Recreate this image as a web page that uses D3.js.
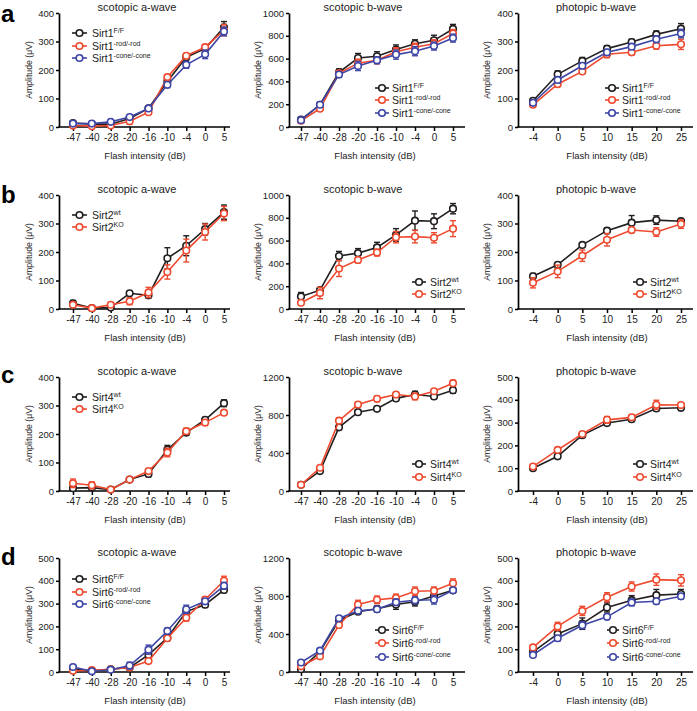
<!DOCTYPE html>
<html><head><meta charset="utf-8">
<script src="https://cdn.jsdelivr.net/npm/d3@7/dist/d3.min.js"></script>
<style>body{margin:0;background:#fff}svg{display:block}</style>
</head><body>
<script>
// ---------- DATA ----------
const xScotopic = ["-47","-40","-28","-20","-16","-10","-4","0","5"];
const xPhotopic = ["-4","0","5","10","15","20","25"];

const yTicks400 = [0,100,200,300,400];
const yTicks500 = [0,100,200,300,400,500];
const yTicks1000 = [0,200,400,600,800,1000];
const yTicks1200 = [0,400,800,1200];

// Row a: Sirt1
const a1_FF = [14,10,10,30,65,160,245,275,350];      const a1_FF_err = [5,4,5,6,6,10,10,10,20];
const a1_rod = [5,3,5,20,52,175,250,280,340];        const a1_rod_err = [4,3,4,10,5,8,8,8,20];
const a1_cone = [12,12,18,35,65,148,218,255,335];    const a1_cone_err = [4,4,4,6,6,10,12,15,15];
const a2_FF = [65,195,480,605,620,680,730,760,860];  const a2_FF_err = [15,15,30,40,40,40,35,45,40];
const a2_rod = [55,160,470,560,585,660,700,730,820]; const a2_rod_err = [10,10,25,35,30,35,35,35,35];
const a2_cone = [60,195,460,535,585,635,665,710,780]; const a2_cone_err = [10,15,25,40,30,40,40,35,35];
const a3_FF = [92,185,232,275,298,325,345];          const a3_FF_err = [8,12,12,10,10,12,18];
const a3_rod = [78,150,195,255,262,285,290];         const a3_rod_err = [6,8,8,12,10,12,18];
const a3_cone = [85,165,215,262,282,308,328];        const a3_cone_err = [6,10,10,10,10,12,15];

// Row b: Sirt2
const b1_wt = [20,3,5,55,48,178,222,280,340];        const b1_wt_err = [10,3,3,5,10,37,35,20,25];
const b1_KO = [15,3,15,27,58,130,205,270,335];       const b1_KO_err = [8,3,4,12,18,25,40,28,25];
const b2_wt = [110,165,465,490,540,650,775,770,880]; const b2_wt_err = [35,20,40,40,45,55,85,65,45];
const b2_KO = [55,140,355,430,495,630,635,625,705];  const b2_KO_err = [20,50,70,25,30,50,55,45,70];
const b3_wt = [115,155,225,275,303,312,308];         const b3_wt_err = [10,8,5,10,25,15,5];
const b3_KO = [92,132,187,243,277,270,298];          const b3_KO_err = [18,22,20,22,10,15,15];

// Row c: Sirt4
const c1_wt = [10,12,5,40,60,145,205,250,308];       const c1_wt_err = [8,8,4,5,10,15,10,8,12];
const c1_KO = [27,20,5,40,70,135,210,240,275];       const c1_KO_err = [15,12,4,5,8,15,10,10,6];
const c2_wt = [65,210,670,830,865,975,1015,995,1060]; const c2_wt_err = [10,25,25,20,20,25,35,25,30];
const c2_KO = [65,245,740,910,970,1015,995,1050,1135]; const c2_KO_err = [10,20,30,25,30,20,35,25,30];
const c3_wt = [100,152,245,298,315,362,365];         const c3_wt_err = [8,10,8,10,10,10,12];
const c3_KO = [107,180,250,312,323,378,377];         const c3_KO_err = [8,10,8,15,12,20,10];

// Row d: Sirt6
const d1_FF = [12,5,12,20,75,150,265,295,360];       const d1_FF_err = [8,4,5,10,12,12,15,12,12];
const d1_rod = [5,8,12,20,48,148,238,318,400];       const d1_rod_err = [5,4,5,10,10,10,15,12,20];
const d1_cone = [22,3,10,28,98,180,275,310,378];     const d1_cone_err = [10,3,5,15,20,12,18,12,15];
const d2_FF = [30,215,545,635,665,710,740,800,860];  const d2_FF_err = [25,15,30,25,30,50,45,35,25];
const d2_rod = [60,165,495,710,760,780,850,855,935]; const d2_rod_err = [20,15,30,45,40,40,45,40,45];
const d2_cone = [100,225,565,645,660,735,755,760,860]; const d2_cone_err = [15,15,25,30,30,30,35,45,25];
const d3_FF = [88,167,212,283,315,337,342];          const d3_FF_err = [10,15,25,20,20,25,20];
const d3_rod = [108,200,268,328,375,405,402];        const d3_rod_err = [10,18,20,20,20,25,25];
const d3_cone = [75,148,205,242,305,310,332];        const d3_cone_err = [8,12,15,12,15,12,12];

// ---------- STYLE / LAYOUT ----------
const COL = {black:"#231f20", red:"#ee4a2f", blue:"#3e46a6"};
const FONT = "Arial, 'Liberation Sans', Helvetica, sans-serif";

const cols = [
  {axisX:59,  x0:73,  x1:224, end:230, titleX:137, xTitleX:145, yLabX:29},
  {axisX:289, x0:301, x1:453, end:465, titleX:363, xTitleX:375, yLabX:258},
  {axisX:518, x0:533, x1:681, end:693, titleX:596, xTitleX:607, yLabX:487}
];
const rows = [
  {top:13,  bottom:127, letter:"a", letterY:22},
  {top:195, bottom:309, letter:"b", letterY:203},
  {top:377, bottom:491, letter:"c", letterY:383},
  {top:558, bottom:672, letter:"d", letterY:565}
];

const sirt1Names = [["Sirt1","F/F"],["Sirt1","-rod/-rod"],["Sirt1","-cone/-cone"]];
const sirt2Names = [["Sirt2","wt"],["Sirt2","KO"]];
const sirt4Names = [["Sirt4","wt"],["Sirt4","KO"]];
const sirt6Names = [["Sirt6","F/F"],["Sirt6","-rod/-rod"],["Sirt6","-cone/-cone"]];
const colors3 = [COL.black, COL.red, COL.blue];
const colors2 = [COL.black, COL.red];

const panels = [
  // row a
  {r:0,c:0,title:"scotopic a-wave",x:xScotopic,ymax:400,ticks:yTicks400,series:[[a1_FF,a1_FF_err],[a1_rod,a1_rod_err],[a1_cone,a1_cone_err]],names:sirt1Names,colors:colors3,leg:{x1:72,x2:87,tx:92,ys:[33,46,58]}},
  {r:0,c:1,title:"scotopic b-wave",x:xScotopic,ymax:1000,ticks:yTicks1000,series:[[a2_FF,a2_FF_err],[a2_rod,a2_rod_err],[a2_cone,a2_cone_err]],names:sirt1Names,colors:colors3,leg:{x1:375,x2:389,tx:392,ys:[88,100,113]}},
  {r:0,c:2,title:"photopic b-wave",x:xPhotopic,ymax:400,ticks:yTicks400,series:[[a3_FF,a3_FF_err],[a3_rod,a3_rod_err],[a3_cone,a3_cone_err]],names:sirt1Names,colors:colors3,leg:{x1:605,x2:619,tx:622,ys:[88,100,113]}},
  // row b
  {r:1,c:0,title:"scotopic a-wave",x:xScotopic,ymax:400,ticks:yTicks400,series:[[b1_wt,b1_wt_err],[b1_KO,b1_KO_err]],names:sirt2Names,colors:colors2,leg:{x1:72,x2:87,tx:92,ys:[215,227]}},
  {r:1,c:1,title:"scotopic b-wave",x:xScotopic,ymax:1000,ticks:yTicks1000,series:[[b2_wt,b2_wt_err],[b2_KO,b2_KO_err]],names:sirt2Names,colors:colors2,leg:{x1:412,x2:426,tx:430,ys:[282,294]}},
  {r:1,c:2,title:"photopic b-wave",x:xPhotopic,ymax:400,ticks:yTicks400,series:[[b3_wt,b3_wt_err],[b3_KO,b3_KO_err]],names:sirt2Names,colors:colors2,leg:{x1:633,x2:647,tx:650,ys:[282,294]}},
  // row c
  {r:2,c:0,title:"scotopic a-wave",x:xScotopic,ymax:400,ticks:yTicks400,series:[[c1_wt,c1_wt_err],[c1_KO,c1_KO_err]],names:sirt4Names,colors:colors2,leg:{x1:72,x2:87,tx:92,ys:[397,409]}},
  {r:2,c:1,title:"scotopic b-wave",x:xScotopic,ymax:1200,ticks:yTicks1200,series:[[c2_wt,c2_wt_err],[c2_KO,c2_KO_err]],names:sirt4Names,colors:colors2,leg:{x1:412,x2:426,tx:430,ys:[464,477]}},
  {r:2,c:2,title:"photopic b-wave",x:xPhotopic,ymax:500,ticks:yTicks500,series:[[c3_wt,c3_wt_err],[c3_KO,c3_KO_err]],names:sirt4Names,colors:colors2,leg:{x1:633,x2:647,tx:650,ys:[464,477]}},
  // row d
  {r:3,c:0,title:"scotopic a-wave",x:xScotopic,ymax:500,ticks:yTicks500,series:[[d1_FF,d1_FF_err],[d1_rod,d1_rod_err],[d1_cone,d1_cone_err]],names:sirt6Names,colors:colors3,leg:{x1:72,x2:87,tx:92,ys:[579,592,604]}},
  {r:3,c:1,title:"scotopic b-wave",x:xScotopic,ymax:1200,ticks:yTicks1200,series:[[d2_FF,d2_FF_err],[d2_rod,d2_rod_err],[d2_cone,d2_cone_err]],names:sirt6Names,colors:colors3,leg:{x1:375,x2:389,tx:392,ys:[630,643,657]}},
  {r:3,c:2,title:"photopic b-wave",x:xPhotopic,ymax:500,ticks:yTicks500,series:[[d3_FF,d3_FF_err],[d3_rod,d3_rod_err],[d3_cone,d3_cone_err]],names:sirt6Names,colors:colors3,leg:{x1:607,x2:619,tx:622,ys:[630,643,657]}}
];

// ---------- DRAW ----------
const svg = d3.select("body").append("svg").attr("width",697).attr("height",711)
  .style("font-family",FONT);

rows.forEach(r=>{
  svg.append("text").attr("x",1).attr("y",r.letterY).text(r.letter)
    .attr("font-size",24).attr("font-weight","bold").attr("fill","#000");
});

panels.forEach(p=>{
  const col = cols[p.c], row = rows[p.r];
  const g = svg.append("g");
  const x = d3.scalePoint().domain(p.x).range([col.x0,col.x1]);
  const y = d3.scaleLinear().domain([0,p.ymax]).range([row.bottom,row.top]);

  // y axis
  const ya = g.append("g").attr("transform",`translate(${col.axisX},0)`)
    .call(d3.axisLeft(y).tickValues(p.ticks).tickSize(3).tickSizeOuter(0).tickPadding(2).tickFormat(d3.format("d")));
  ya.select(".domain").attr("stroke","#000").attr("stroke-width",1.7);
  ya.selectAll(".tick line").attr("stroke","#000").attr("stroke-width",1.5);
  ya.selectAll(".tick text").attr("font-size",9.5).attr("fill","#222").attr("font-family",FONT);

  // x axis
  const xa = g.append("g").attr("transform",`translate(0,${row.bottom})`)
    .call(d3.axisBottom(x).tickSize(4).tickSizeOuter(0).tickPadding(3));
  xa.select(".domain").remove();
  xa.selectAll(".tick line").attr("stroke","#000").attr("stroke-width",1.5);
  xa.selectAll(".tick text").attr("font-size",10).attr("fill","#222").attr("font-family",FONT);
  g.append("line").attr("x1",col.axisX-0.85).attr("x2",col.end).attr("y1",row.bottom).attr("y2",row.bottom)
    .attr("stroke","#000").attr("stroke-width",1.7);

  // titles
  g.append("text").attr("x",col.titleX).attr("y",row.top-2.5).attr("text-anchor","middle")
    .attr("font-size",11).attr("fill","#222").text(p.title);
  g.append("text").attr("x",col.xTitleX).attr("y",row.bottom+32).attr("text-anchor","middle")
    .attr("font-size",9.5).attr("fill","#222").text("Flash intensity (dB)");
  g.append("text").attr("transform",`translate(${col.yLabX},${(row.top+row.bottom)/2}) rotate(-90)`)
    .attr("text-anchor","middle").attr("dominant-baseline","central")
    .attr("font-size",8.7).attr("fill","#222").text("Amplitude (\u03bcV)");

  // series
  p.series.forEach((s,i)=>{
    const vals = s[0], errs = s[1], color = p.colors[i];
    const pts = p.x.map((k,j)=>({k, v:vals[j], e:errs[j]}));
    const sg = g.append("g");
    // error bars
    pts.forEach(d=>{
      const cx = x(d.k);
      const lo = y(Math.max(0,d.v-d.e)), hi = y(d.v+d.e);
      sg.append("line").attr("x1",cx).attr("x2",cx).attr("y1",lo).attr("y2",hi)
        .attr("stroke",color).attr("stroke-width",1.4);
      [lo,hi].forEach(yy=>sg.append("line").attr("x1",cx-3).attr("x2",cx+3).attr("y1",yy).attr("y2",yy)
        .attr("stroke",color).attr("stroke-width",1.4));
    });
    sg.append("path").datum(pts)
      .attr("d",d3.line().x(d=>x(d.k)).y(d=>y(d.v)))
      .attr("fill","none").attr("stroke",color).attr("stroke-width",1.6);
    sg.selectAll("circle").data(pts).join("circle")
      .attr("cx",d=>x(d.k)).attr("cy",d=>y(d.v)).attr("r",3.3)
      .attr("fill","#fff").attr("stroke",color).attr("stroke-width",1.6);
  });

  // legend
  p.names.forEach((nm,i)=>{
    const ly = p.leg.ys[i], color = p.colors[i];
    g.append("line").attr("x1",p.leg.x1).attr("x2",p.leg.x2).attr("y1",ly).attr("y2",ly)
      .attr("stroke",color).attr("stroke-width",1.6);
    g.append("circle").attr("cx",(p.leg.x1+p.leg.x2)/2).attr("cy",ly).attr("r",3.3)
      .attr("fill","#fff").attr("stroke",color).attr("stroke-width",1.6);
    const t = g.append("text").attr("x",p.leg.tx).attr("y",ly+3.7).attr("font-size",10.5).attr("fill","#222");
    t.append("tspan").text(nm[0]);
    t.append("tspan").attr("dy",-4).attr("font-size",7).text(nm[1]);
  });
});
</script>
</body></html>
